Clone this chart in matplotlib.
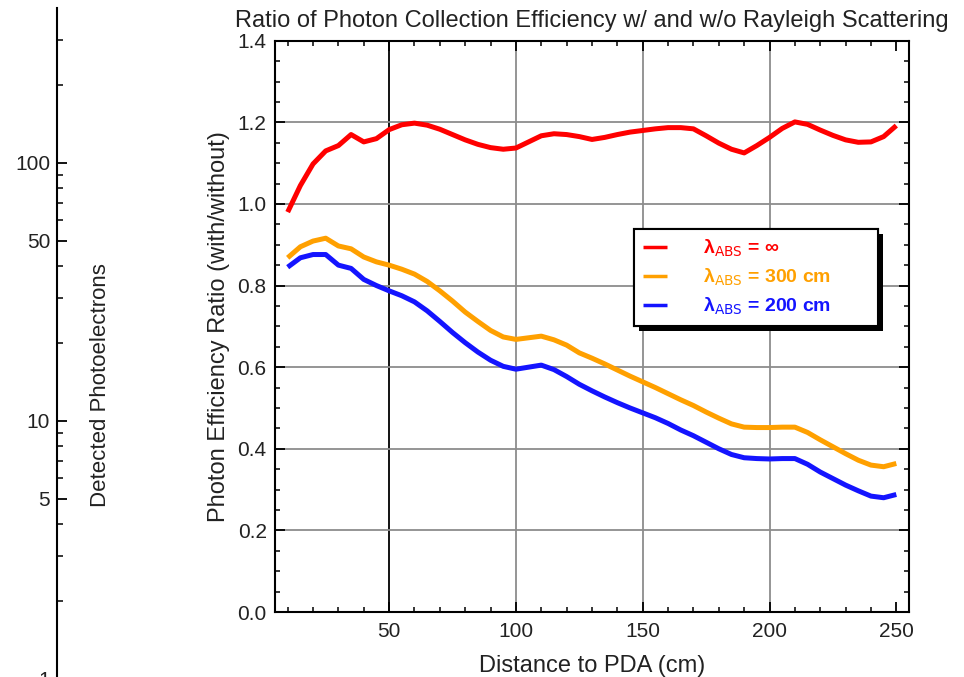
import matplotlib
matplotlib.use("Agg")
import matplotlib.pyplot as plt
from matplotlib.ticker import MultipleLocator, FixedLocator, NullFormatter, LogLocator, FixedFormatter
from matplotlib.patches import Rectangle
from matplotlib.transforms import IdentityTransform

plt.rcParams['font.family'] = ['Liberation Sans', 'DejaVu Sans']

# Distance to PDA (cm)
distance = [10, 15, 20, 25, 30, 35, 40, 45, 50, 55, 60, 65, 70, 75, 80, 85, 90, 95,
            100, 105, 110, 115, 120, 125, 130, 135, 140, 145, 150, 155, 160, 165, 170,
            175, 180, 185, 190, 195, 200, 205, 210, 215, 220, 225, 230, 235, 240, 245, 250]

# Ratio with/without Rayleigh scattering, no absorption
ratio_inf = [0.980, 1.045, 1.098, 1.130, 1.143, 1.170, 1.152, 1.160, 1.182, 1.194,
             1.198, 1.193, 1.183, 1.170, 1.157, 1.146, 1.138, 1.134, 1.137, 1.152,
             1.167, 1.172, 1.170, 1.165, 1.158, 1.163, 1.170, 1.176, 1.180, 1.184,
             1.187, 1.187, 1.184, 1.167, 1.149, 1.134, 1.125, 1.143, 1.163, 1.185,
             1.201, 1.195, 1.181, 1.168, 1.157, 1.151, 1.152, 1.165, 1.192]

# Absorption length 300 cm
ratio_300 = [0.868, 0.895, 0.909, 0.916, 0.897, 0.890, 0.870, 0.858, 0.850, 0.840,
             0.828, 0.810, 0.787, 0.762, 0.735, 0.712, 0.690, 0.674, 0.668, 0.672,
             0.676, 0.667, 0.654, 0.635, 0.622, 0.608, 0.593, 0.578, 0.564, 0.550,
             0.535, 0.520, 0.506, 0.490, 0.475, 0.461, 0.453, 0.452, 0.452, 0.453,
             0.453, 0.440, 0.422, 0.405, 0.388, 0.372, 0.360, 0.356, 0.364]

# Absorption length 200 cm
ratio_200 = [0.845, 0.868, 0.876, 0.876, 0.850, 0.842, 0.815, 0.800, 0.787, 0.775,
             0.760, 0.738, 0.712, 0.685, 0.660, 0.637, 0.617, 0.602, 0.595, 0.600,
             0.605, 0.594, 0.577, 0.558, 0.542, 0.527, 0.513, 0.500, 0.488, 0.476,
             0.462, 0.446, 0.432, 0.416, 0.400, 0.386, 0.378, 0.376, 0.375, 0.376,
             0.376, 0.362, 0.343, 0.327, 0.311, 0.297, 0.284, 0.280, 0.288]

series_labels = [r'λ$_{\rm ABS}$ = ∞', r'λ$_{\rm ABS}$ = 300 cm', r'λ$_{\rm ABS}$ = 200 cm']
series_colors = ['#ff0000', '#ffa000', '#1414ff']

x_ticks = [50, 100, 150, 200, 250]
y_ticks = [0.0, 0.2, 0.4, 0.6, 0.8, 1.0, 1.2, 1.4]
pe_ticks = [1, 5, 10, 50, 100]
pe_tick_labels = ['1', '5', '10', '50', '100']

W, H = 964, 677
fig = plt.figure(figsize=(W / 100, H / 100), dpi=100)

def px_rect(l, t, r, b):
    return [l / W, 1 - b / H, (r - l) / W, (b - t) / H]

# Leftover logarithmic photoelectron axis
axl = fig.add_axes(px_rect(57, 8, 120, 679))
axl.set_yscale('log')
axl.set_ylim(1, 398)
for s in ['top', 'right', 'bottom']:
    axl.spines[s].set_visible(False)
axl.spines['left'].set_linewidth(1.5)
axl.patch.set_visible(False)
axl.set_xticks([])
axl.yaxis.set_major_locator(FixedLocator(pe_ticks))
axl.yaxis.set_major_formatter(FixedFormatter(pe_tick_labels))
axl.yaxis.set_minor_locator(LogLocator(base=10, subs=range(2, 10)))
axl.yaxis.set_minor_formatter(NullFormatter())
axl.tick_params(axis='y', which='major', direction='in', length=7, width=1.3,
                labelsize=15, pad=5, labelcolor='#222222')
axl.tick_params(axis='y', which='minor', direction='in', length=4, width=1.1)
fig.text(100 / W, 1 - 385 / H, 'Detected Photoelectrons', rotation=90,
         ha='center', va='center', fontsize=16, color='#222222')

# Main ratio plot
ax = fig.add_axes(px_rect(275, 40.7, 909, 612))
ax.set_xlim(5, 255)
ax.set_ylim(0, 1.4)

for xv in x_ticks[1:-1]:
    ax.axvline(xv, color='#8c8c8c', lw=1.3, zorder=1)
ax.axvline(x_ticks[0], color='black', lw=1.3, zorder=1)
for yv in y_ticks[1:-1]:
    ax.axhline(yv, color='#8c8c8c', lw=1.3, zorder=1)

for yvals, lab, col in zip([ratio_inf, ratio_300, ratio_200], series_labels, series_colors):
    ax.plot(distance, yvals, color=col, lw=3.6, label=lab, zorder=3,
            solid_joinstyle='round', solid_capstyle='butt')

ax.set_xticks(x_ticks)
ax.set_yticks(y_ticks)
ax.set_yticklabels([f'{v:.1f}' for v in y_ticks])
ax.xaxis.set_minor_locator(MultipleLocator(10))
ax.yaxis.set_minor_locator(MultipleLocator(0.05))
ax.tick_params(which='both', direction='in', top=True, right=True, colors='black',
               labelsize=15, labelcolor='#222222')
ax.tick_params(which='major', length=7, width=1.3)
ax.tick_params(which='minor', length=3.5, width=1.1)
ax.tick_params(axis='x', pad=7)
ax.tick_params(axis='y', pad=6)
for s in ax.spines.values():
    s.set_linewidth(1.5)

ax.set_xlabel('Distance to PDA (cm)', fontsize=17, labelpad=10, color='#222222')
ax.set_ylabel('Photon Efficiency Ratio (with/without)', fontsize=17, labelpad=5,
              color='#222222')
ax.set_title('Ratio of Photon Collection Efficiency w/ and w/o Rayleigh Scattering',
             fontsize=17, pad=10, color='#222222')

# Legend box spanning a fixed width, anchored by its upper-left corner
lx0, lx1, ly0, ly1 = 634, 878, 229, 322
ax_w, ax_h = 909 - 275, 612 - 40.7
leg = ax.legend(loc='upper left',
                bbox_to_anchor=((lx0 - 275) / ax_w, (612 - ly1) / ax_h,
                                (lx1 - lx0) / ax_w, (ly1 - ly0) / ax_h),
                mode='expand',
                prop={'weight': 'bold', 'size': 14}, labelcolor='linecolor',
                handlelength=1.25, handletextpad=1.85, labelspacing=0.4,
                borderpad=0.45, borderaxespad=0, fancybox=False, framealpha=1,
                edgecolor='black')
leg.get_frame().set_linewidth(1.5)
leg.set_zorder(6)
for line in leg.get_lines():
    line.set_linewidth(2.5)

fig.canvas.draw()
bb = leg.get_window_extent()
shadow = Rectangle((bb.x0 + 5, bb.y0 - 5), bb.width, bb.height, transform=IdentityTransform(),
                   facecolor='black', edgecolor='none', zorder=5.5)
fig.add_artist(shadow)
# redraw the legend above its shadow
fig.add_artist(leg)

fig.savefig('out.png', dpi=100)
